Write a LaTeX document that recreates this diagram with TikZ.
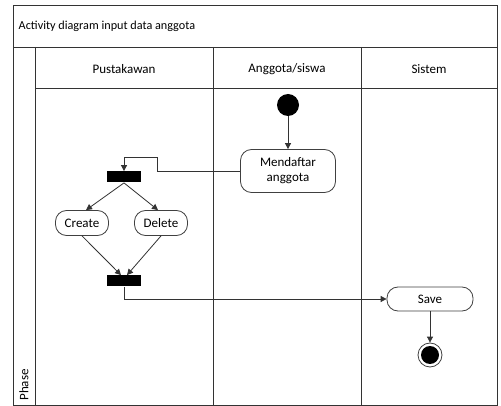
\documentclass[tikz,border=0pt]{standalone}
\usepackage{fontspec}
\setmainfont{Carlito}
\usetikzlibrary{positioning,arrows.meta}
\begin{document}
\begin{tikzpicture}[x=1pt,y=-1pt,font=\fontsize{13}{15}\selectfont,
  line width=0.8pt,draw=black!80,
  >={Triangle[length=6pt,width=6pt]},
  act/.style={draw=black!75,fill=white,rounded corners=11pt,align=center,inner sep=2pt},
  bar/.style={fill=black,minimum width=34pt,minimum height=11pt,inner sep=0pt},
  lane/.style={anchor=center}]
  \useasboundingbox (0,0) rectangle (501,406);
  % kerangka swimlane
  \draw (13,5) rectangle (497,405);
  \draw (13,47) -- (497,47);
  \draw (35,88) -- (497,88);
  \draw (35,47) -- (35,405);
  \draw (213,47) -- (213,405);
  \draw (361,47) -- (361,405);
  \node[anchor=west,font=\fontsize{12.2}{14}\selectfont] (judul) at (15,26) {Activity diagram input data anggota};
  \node[lane] (pustakawan) at (124,69) {Pustakawan};
  \node[lane] (anggota) at (287,69) {Anggota/siswa};
  \node[lane] (sistem) at (429,69) {Sistem};
  \node[rotate=90] (phase) at (24,385) {Phase};
  % aktivitas
  \node[circle,fill=black,minimum size=22pt,inner sep=0pt] (mulai) at (288,105) {};
  \node[act,minimum width=95pt,minimum height=43pt] (daftar) at (288,171) {Mendaftar\\anggota};
  \node[bar] (fork) at (124,177) {};
  \node[act,minimum width=53pt,minimum height=25pt] (create) at (82,223) {Create};
  \node[act,minimum width=53pt,minimum height=25pt] (delete) at (161,223) {Delete};
  \node[bar] (join) at (124,281) {};
  \node[act,minimum width=86pt,minimum height=24pt] (save) at (430,299) {Save};
  \node[circle,draw=black!75,minimum size=24pt,inner sep=0pt] (selesai) at (430,355) {};
  \fill (selesai) circle (9pt);
  % alur
  \draw[->] (mulai) -- (daftar);
  \draw[->] (daftar.west) -- (157,171) -- (157,157) -| (fork.north);
  \draw[->] (fork.south) -- ([xshift=4pt]create.north);
  \draw[->] (fork.south) -- ([xshift=-3pt]delete.north);
  \draw[->] (create.south) -- ([xshift=-3pt]join.north);
  \draw[->] (delete.south) -- ([xshift=3pt]join.north);
  \draw[->] (join.south) |- (save.west);
  \draw[->] (save) -- (selesai);
\end{tikzpicture}
\end{document}
